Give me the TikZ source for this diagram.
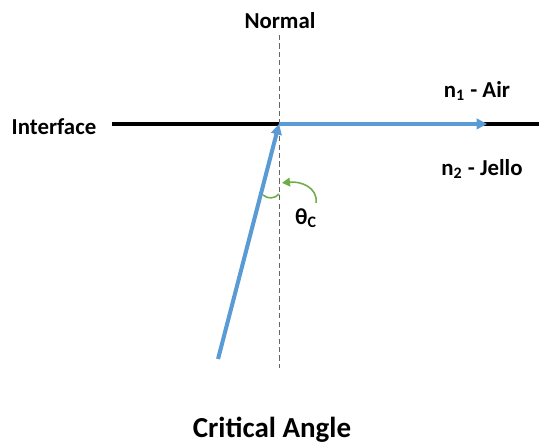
\documentclass[tikz,border=0pt]{standalone}
\usepackage{fontspec}
\setmainfont{Carlito}
\usetikzlibrary{arrows.meta}

\definecolor{rayblue}{RGB}{91,155,213}
\definecolor{anglegreen}{RGB}{112,173,71}

\tikzset{
  lbl/.style={font=\fontsize{13}{15}\selectfont\bfseries, inner sep=0pt},
  ray/.style={rayblue, line width=2.3pt, -{Triangle[length=6pt,width=6pt]}},
}

\begin{document}
\begin{tikzpicture}[scale=0.02]

  \useasboundingbox (0,0) rectangle (539,445);

  % Coordinates
  \coordinate (O) at (279,321);      % where the ray meets the interface
  \coordinate (tip) at (487,321);    % end of refracted ray
  \coordinate (src) at (218,86);     % start of incident ray
  \coordinate (ifL) at (112,321);    % interface left end
  \coordinate (ifR) at (539,321);    % interface right end
  \coordinate (nTop) at (279,410);   % normal top
  \coordinate (nBot) at (279,77);    % normal bottom
  \coordinate (arcA) at (263,250);   % small angle arc
  \coordinate (arcB) at (279,251);
  \coordinate (pA) at (316,242);     % curved pointer
  \coordinate (pB) at (282,262);

  % Normal (dashed)
  \draw[gray!80!black, line width=0.6pt, dash pattern=on 3pt off 1.8pt] (nTop) -- (nBot);

  % Interface
  \draw[line width=1.9pt] (ifL) -- (ifR);

  % Rays
  \draw[ray] (src) -- (O);
  \draw[ray] (O) -- (tip);

  % Angle theta_c
  \draw[anglegreen, line width=0.9pt] (arcA) .. controls (267,246) and (275,246) .. (arcB);
  \draw[anglegreen, line width=0.9pt, -{Triangle[length=4.5pt,width=5pt]}]
    (pA) .. controls (318,258) and (300,264) .. (pB);

  % Labels
  \node[lbl] (normal) at (280,424) {Normal};
  \node[lbl] (iface) at (54,318) {Interface};
  \node[lbl] (air) at (477,354) {n\textsubscript{1} - Air};
  \node[lbl] (jello) at (482,276) {n\textsubscript{2} - Jello};
  \node[lbl] (theta) at (306,227) {θ\textsubscript{C}};
  \node[font=\fontsize{16.5}{19}\selectfont\bfseries, inner sep=0pt] (title) at (272,15) {Critical Angle};

\end{tikzpicture}
\end{document}
